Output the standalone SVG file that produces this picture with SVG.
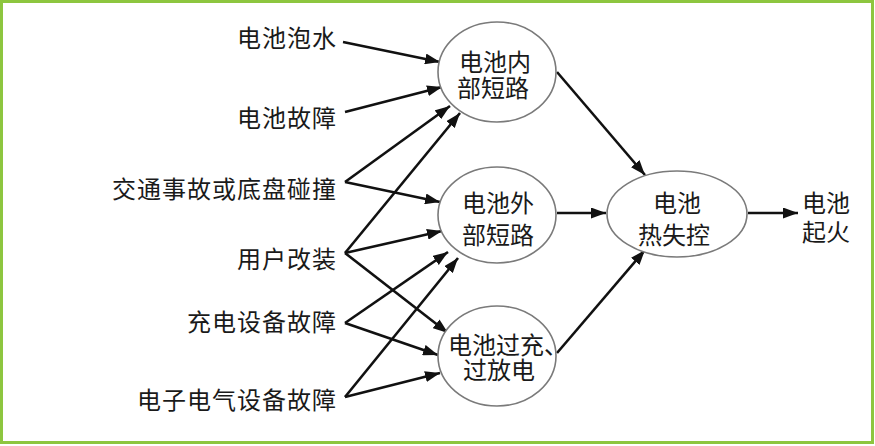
<svg xmlns="http://www.w3.org/2000/svg" width="875" height="446" viewBox="0 0 875 446">
<defs>
<marker id="ah" markerUnits="userSpaceOnUse" markerWidth="15" markerHeight="11" refX="15" refY="5.5" orient="auto">
<path d="M0,0 L15,5.5 L0,11 z" fill="#111"/>
</marker>
<style>
.frame{fill:#fff;stroke:#8dc63f;stroke-width:3}
.lbl{font-family:"Noto Sans CJK SC","Noto Sans",sans-serif;font-size:24px;letter-spacing:1px;fill:#1a1a1a;text-anchor:end}
.nt{font-family:"Noto Sans CJK SC","Noto Sans",sans-serif;font-size:24px;fill:#1a1a1a;text-anchor:middle}
.node{fill:#fff;stroke:#7a7a7a;stroke-width:1.6}
.edge{stroke:#111;stroke-width:2.6;fill:none;marker-end:url(#ah)}
</style>
</defs>
<rect class="frame" x="1.5" y="1.5" width="871" height="441"/>
<g id="connectors">
<line class="edge" x1="343" y1="42" x2="440" y2="62"/>
<line class="edge" x1="345" y1="112" x2="442" y2="87"/>
<line class="edge" x1="345" y1="182" x2="450" y2="106"/>
<line class="edge" x1="345" y1="182" x2="440" y2="202"/>
<line class="edge" x1="345" y1="253" x2="460" y2="113"/>
<line class="edge" x1="345" y1="253" x2="442" y2="231"/>
<line class="edge" x1="345" y1="253" x2="448" y2="333"/>
<line class="edge" x1="345" y1="323" x2="448" y2="252"/>
<line class="edge" x1="345" y1="323" x2="438" y2="355"/>
<line class="edge" x1="345" y1="397" x2="458" y2="258"/>
<line class="edge" x1="345" y1="397" x2="440" y2="373"/>
<line class="edge" x1="557" y1="72" x2="645" y2="175"/>
<line class="edge" x1="557" y1="213" x2="606" y2="213"/>
<line class="edge" x1="557" y1="353" x2="645" y2="250"/>
<line class="edge" x1="748" y1="213" x2="798" y2="213"/>
</g>
<g id="src-soak"><text class="lbl" x="337" y="47">电池泡水</text></g>
<g id="src-batfault"><text class="lbl" x="337" y="127">电池故障</text></g>
<g id="src-accident"><text class="lbl" x="337" y="198">交通事故或底盘碰撞</text></g>
<g id="src-modify"><text class="lbl" x="337" y="268">用户改装</text></g>
<g id="src-charger"><text class="lbl" x="337" y="331">充电设备故障</text></g>
<g id="src-electric"><text class="lbl" x="337" y="409">电子电气设备故障</text></g>
<g id="n-internal">
<ellipse class="node" cx="497" cy="72" rx="59" ry="50"/>
<text class="nt"><tspan x="495" y="71">电池内</tspan><tspan x="493" y="97">部短路</tspan></text>
</g>
<g id="n-external">
<ellipse class="node" cx="497" cy="215" rx="59" ry="48"/>
<text class="nt"><tspan x="498" y="212">电池外</tspan><tspan x="498" y="244">部短路</tspan></text>
</g>
<g id="n-overcharge">
<ellipse class="node" cx="497" cy="356" rx="59" ry="50"/>
<text class="nt"><tspan x="508" y="354">电池过充、</tspan><tspan x="499" y="379">过放电</tspan></text>
</g>
<g id="n-runaway">
<ellipse class="node" cx="677" cy="214" rx="70" ry="43"/>
<text class="nt"><tspan x="677" y="212">电池</tspan><tspan x="674" y="244">热失控</tspan></text>
</g>
<g id="n-fire">
<text class="nt"><tspan x="826" y="212">电池</tspan><tspan x="826" y="241">起火</tspan></text>
</g>
</svg>
